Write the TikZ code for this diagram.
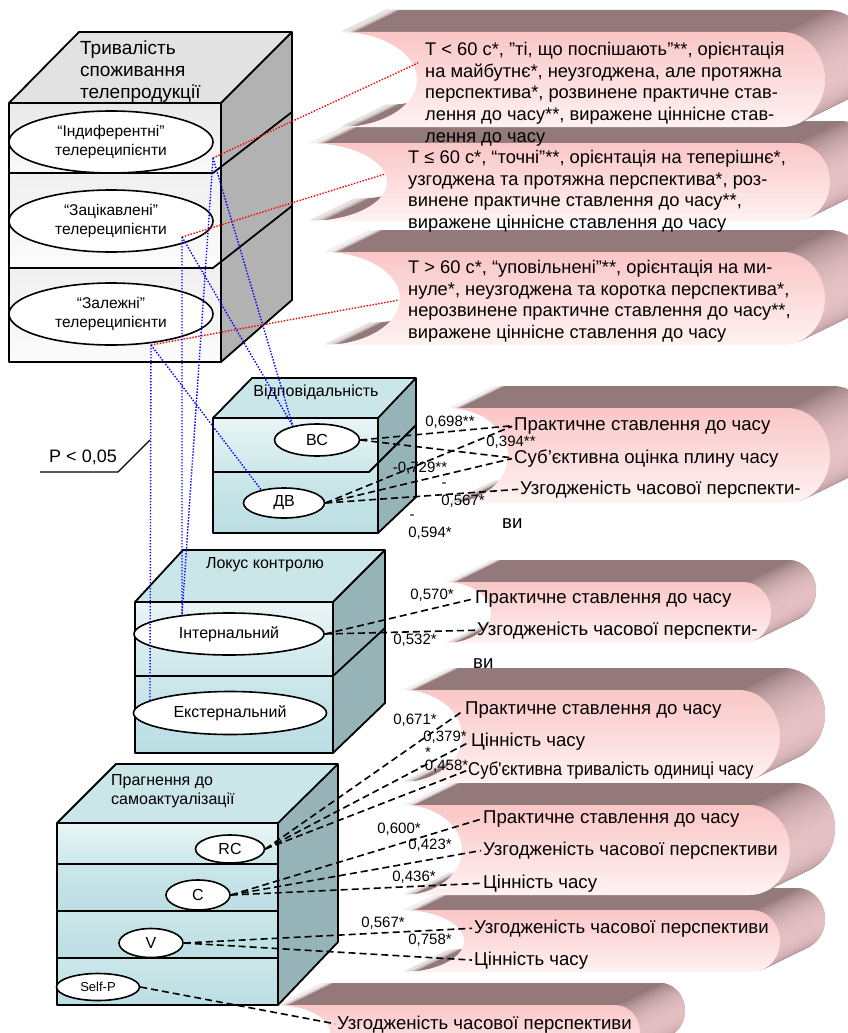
\documentclass[tikz,border=0pt]{standalone}
\usepackage{fontspec}
\setmainfont{Liberation Sans}
\newfontfamily\narrowfont[FakeStretch=0.9]{Liberation Sans}
\usetikzlibrary{shapes.geometric}
\definecolor{rdark}{RGB}{148,121,123}
\definecolor{rlight}{RGB}{232,196,199}
\definecolor{rtop}{RGB}{250,198,198}
\definecolor{rbot}{RGB}{255,242,242}
\definecolor{gtop}{RGB}{226,226,226}
\definecolor{gside}{RGB}{178,178,178}
\definecolor{ttop}{RGB}{202,230,233}
\definecolor{tside}{RGB}{150,180,184}
\definecolor{tfa}{RGB}{234,245,246}
\definecolor{tfb}{RGB}{204,231,234}
\definecolor{tfc}{RGB}{186,222,227}
\newcommand{\ribbonfill}[1]{\path[#1] (\rbL,\rbT) -- (\rbC,\rbT) .. controls (\rbK,\rbT) and (\rbR,\rbU) .. (\rbR,\rbM) .. controls (\rbR,\rbV) and (\rbK,\rbB) .. (\rbC,\rbB) -- (\rbL,\rbB) .. controls (\rbP,\rbB) and (\rbN,\rbV) .. (\rbN,\rbM) .. controls (\rbN,\rbU) and (\rbP,\rbT) .. (\rbL,\rbT) -- cycle;}
\newcommand{\ribbonend}[1]{\shade[#1] (\rbC,\rbT) .. controls (\rbK,\rbT) and (\rbR,\rbU) .. (\rbR,\rbM) .. controls (\rbR,\rbV) and (\rbK,\rbB) .. (\rbC,\rbB) -- cycle;}
\newcommand{\ribbon}[5]{%
  \pgfmathsetmacro{\rbL}{#1}%
  \pgfmathsetmacro{\rbT}{#2}%
  \pgfmathsetmacro{\rbB}{#3}%
  \pgfmathsetmacro{\rbN}{#4}%
  \pgfmathsetmacro{\rbR}{#5}%
  \pgfmathsetmacro{\rbM}{(#2+#3)/2}%
  \pgfmathsetmacro{\rbC}{#5-0.45*(#3-#2)}%
  \pgfmathsetmacro{\rbK}{\rbC+0.552*(\rbR-\rbC)}%
  \pgfmathsetmacro{\rbU}{\rbM-0.552*(\rbM-\rbT)}%
  \pgfmathsetmacro{\rbV}{\rbM+0.552*(\rbB-\rbM)}%
  \pgfmathsetmacro{\rbP}{\rbL+0.552*(\rbN-\rbL)}%
  \foreach \k in {22,21,...,1}{\ribbonfill{fill=rdark,shift={({45*\k/22},{-\k})}}}%
  \foreach \k in {22,21,...,1}{\ribbonend{left color=rdark,right color=rlight,shift={({45*\k/22},{-\k})}}}%
  \ribbonfill{top color=rtop,bottom color=rbot}%
}

\begin{document}
\begin{tikzpicture}[x=1pt,y=-1pt,
  boxline/.style={line width=1.8pt,line join=round},
  enode/.style={draw,ellipse,fill=white,line width=1.6pt,inner sep=0pt,font=\fontsize{16}{18}\selectfont},
  tnode/.style={anchor=base west,inner sep=0pt,font=\fontsize{18.6}{22}\selectfont},
  pnode/.style={anchor=north west,inner sep=0pt,align=left,font=\fontsize{18.3}{21.7}\selectfont},
  lnode/.style={inner sep=0pt,font=\fontsize{15}{17}\selectfont},
  cline/.style={line width=1.6pt,dash pattern=on 7pt off 4pt,shorten >=2pt},
  bline/.style={blue,line width=1.4pt,dash pattern=on 1.4pt off 1.6pt},
  rline/.style={red,line width=1.4pt,dash pattern=on 1.4pt off 1.6pt}]
  \useasboundingbox (0,0) rectangle (848,1033);
  \clip (0,0) rectangle (848,1033);

  \fill[gtop] (9,103) -- (79,32) -- (292,32) -- (221,103) -- cycle;
  \fill[gside] (221,103) -- (292,32) -- (292,300) -- (221,362) -- cycle;
  \shade[top color=gray!18,bottom color=gray!4] (9,103) rectangle (221,173);
  \shade[top color=gray!12,bottom color=gray!3] (9,173) rectangle (221,268);
  \shade[top color=gray!12,bottom color=gray!3] (9,268) rectangle (221,362);
  \draw[boxline] (9,103) -- (79,32) -- (292,32) -- (292,300) -- (221,362) -- (9,362) -- cycle;
  \draw[boxline] (9,103) -- (221,103) -- (292,32);
  \draw[boxline] (221,103) -- (221,362);
  \draw[boxline] (9,173) -- (213,173) -- (292,112);
  \draw[boxline] (9,268) -- (213,268) -- (292,206);

  \fill[ttop] (213,418) -- (252,378) -- (416,378) -- (378,418) -- cycle;
  \fill[tside] (378,418) -- (416,378) -- (416,497) -- (378,533) -- cycle;
  \shade[top color=tfa,bottom color=tfb] (213,418) rectangle (378,472);
  \shade[top color=tfb,bottom color=tfc] (213,472) rectangle (378,533);
  \draw[boxline] (213,418) -- (252,378) -- (416,378) -- (416,497) -- (378,533) -- (213,533) -- cycle;
  \draw[boxline] (213,418) -- (378,418) -- (416,378);
  \draw[boxline] (378,418) -- (378,533);
  \draw[boxline] (213,472) -- (369,472) -- (416,425);

  \fill[ttop] (135,602) -- (183,550) -- (385,550) -- (333,602) -- cycle;
  \fill[tside] (333,602) -- (385,550) -- (385,703) -- (333,753) -- cycle;
  \shade[top color=tfa,bottom color=tfb] (135,602) rectangle (333,676);
  \shade[top color=tfb,bottom color=tfc] (135,676) rectangle (333,753);
  \draw[boxline] (135,602) -- (183,550) -- (385,550) -- (385,703) -- (333,753) -- (135,753) -- cycle;
  \draw[boxline] (135,602) -- (333,602) -- (385,550);
  \draw[boxline] (333,602) -- (333,753);
  \draw[boxline] (135,676) -- (333,676) -- (385,628);

  \fill[ttop] (57,823) -- (116,764) -- (338,764) -- (278,823) -- cycle;
  \fill[tside] (278,823) -- (338,764) -- (338,942) -- (278,1005) -- cycle;
  \shade[top color=tfa,bottom color=tfb] (57,823) rectangle (278,864);
  \shade[top color=tfb,bottom color=tfc] (57,864) rectangle (278,911);
  \shade[top color=tfb,bottom color=tfc] (57,911) rectangle (278,958);
  \shade[top color=tfb,bottom color=tfc] (57,958) rectangle (278,1005);
  \draw[boxline] (57,823) -- (116,764) -- (338,764) -- (338,942) -- (278,1005) -- (57,1005) -- cycle;
  \draw[boxline] (57,823) -- (278,823) -- (338,764);
  \draw[boxline] (278,823) -- (278,1005);
  \draw[boxline] (57,864) -- (278,864);
  \draw[boxline] (57,911) -- (278,911);
  \draw[boxline] (57,958) -- (278,958);

  \ribbon{275}{1005}{1060}{330}{640}
  \ribbon{402}{910}{972}{464}{780}
  \ribbon{403}{805}{895}{462}{790}
  \ribbon{402}{690}{782}{462}{780}
  \ribbon{445}{582}{643}{491}{771}
  \ribbon{448}{408}{503}{508}{830}
  \ribbon{323}{252}{345}{400}{825}
  \ribbon{308}{143}{221}{387}{830}
  \ribbon{340}{32}{127}{417}{825}

  \node[anchor=north west,inner sep=0pt,align=left,font=\fontsize{19}{22}\selectfont] (dur) at (80,41) {Тривалість\\споживання\\телепродукції};
  \node[enode,minimum width=204pt,minimum height=62pt,align=center,font=\fontsize{15.5}{18.5}\selectfont] (indif) at (111,142) {“Індиферентні”\\телереципієнти};
  \node[enode,minimum width=204pt,minimum height=62pt,align=center,font=\fontsize{15.5}{18.5}\selectfont] (zac) at (111,221) {“Зацікавлені”\\телереципієнти};
  \node[enode,minimum width=204pt,minimum height=62pt,align=center,font=\fontsize{15.5}{18.5}\selectfont] (zal) at (111,314) {“Залежні”\\телереципієнти};

  \node[inner sep=0pt,font=\fontsize{16}{18}\selectfont] (resp) at (316,392) {Відповідальність};
  \node[enode,minimum width=85pt,minimum height=32pt] (bc) at (317,440) {ВС};
  \node[enode,minimum width=81pt,minimum height=30pt] (dv) at (284,503) {ДВ};

  \node[inner sep=0pt,font=\fontsize{16}{18}\selectfont] (loc) at (265,565) {Локус контролю};
  \node[enode,minimum width=190pt,minimum height=42pt] (intern) at (229,634) {Інтернальний};
  \node[enode,minimum width=193pt,minimum height=43pt] (extern) at (230,713) {Екстернальний};

  \node[anchor=north west,inner sep=0pt,align=left,font=\fontsize{16}{19}\selectfont] (strive) at (111,774) {Прагнення до\\самоактуалізації};
  \node[enode,minimum width=69pt,minimum height=28pt] (rc) at (230,849) {RC};
  \node[enode,minimum width=64pt,minimum height=30pt] (cc) at (198,895) {C};
  \node[enode,minimum width=64pt,minimum height=29pt] (vv) at (151,943) {V};
  \node[enode,minimum width=83pt,minimum height=27pt,font=\fontsize{13}{15}\selectfont] (selfp) at (98,987) {Self-P};

  \coordinate (ip) at (213,158);
  \coordinate (zp) at (182,237);
  \coordinate (lp) at (151,345);
  \coordinate (n1) at (418,63);
  \coordinate (n2) at (385,174);
  \coordinate (n3) at (399,300);
  \coordinate (pa) at (40,472);
  \coordinate (pb) at (118,472);
  \coordinate (pc) at (150,440);

  \node[pnode] (t1) at (425,42) {Т < 60 с*, "ті, що поспішають”**, орієнтація\\на майбутнє*, неузгоджена, але протяжна\\перспектива*, розвинене практичне став-\\лення до часу**, виражене ціннісне став-\\лення до часу};
  \node[pnode] (t2) at (408,150) {Т ≤ 60 с*, “точні”**, орієнтація на теперішнє*,\\узгоджена та протяжна перспектива*, роз-\\винене практичне ставлення до часу**,\\виражене ціннісне ставлення до часу};
  \node[pnode] (t3) at (408,260) {Т > 60 с*, “уповільнені”**, орієнтація на ми-\\нуле*, неузгоджена та коротка перспектива*,\\нерозвинене практичне ставлення до часу**,\\виражене ціннісне ставлення до часу};

  \node[tnode] (p4a) at (514,430) {Практичне ставлення до часу};
  \node[tnode] (p4b) at (514,463) {Суб’єктивна оцінка плину часу};
  \node[tnode] (p4c) at (520,494) {Узгодженість часової перспекти-};
  \node[tnode] (p4d) at (502,528) {ви};
  \node[tnode] (p5a) at (475,603) {Практичне ставлення до часу};
  \node[tnode] (p5b) at (477,635) {Узгодженість часової перспекти-};
  \node[tnode] (p5c) at (473,668) {ви};
  \node[tnode] (p6a) at (465,714) {Практичне ставлення до часу};
  \node[tnode] (p6b) at (471,746) {Цінність часу};
  \node[tnode,font=\narrowfont\fontsize{18.6}{22}\selectfont] (p6c) at (468,775) {Суб'єктивна тривалість одиниці часу};
  \node[tnode] (p7a) at (483,823) {Практичне ставлення до часу};
  \node[tnode] (p7b) at (483,855) {Узгодженість часової перспективи};
  \node[tnode] (p7c) at (483,888) {Цінність часу};
  \node[tnode] (p8a) at (474,933) {Узгодженість часової перспективи};
  \node[tnode] (p8b) at (474,965) {Цінність часу};
  \node[tnode] (p9a) at (337,1029) {Узгодженість часової перспективи};

  \node[anchor=base east,inner sep=0pt,font=\fontsize{18}{20}\selectfont] (pval) at (117,462) {P < 0,05};
  \draw[line width=1.3pt] (pa) -- (pb) -- (pc);

  \draw[rline] (ip) -- (n1);
  \draw[rline] (zp) -- (n2);
  \draw[rline] (lp) -- (n3);

  \draw[bline] (ip) -- (bc.150);
  \draw[bline] (ip) -- (intern.158);
  \draw[bline] (zp) -- (bc.150);
  \draw[bline] (zp) -- (intern.158);
  \draw[bline] (lp) -- (dv.150);
  \draw[bline] (lp) -- (extern.171);

  \begin{scope}[cline]
    \draw (bc.east) -- (p4a.west);
    \draw (bc.east) -- (p4b.west);
    \draw (dv.east) -- (p4a.west);
    \draw (dv.east) -- (p4b.west);
    \draw (dv.east) -- (p4c.west);
    \draw (intern.east) -- (p5a.west);
    \draw (intern.east) -- (p5b.west);
    \draw (rc.east) -- (p6a.west);
    \draw (rc.east) -- (p6b.west);
    \draw (rc.east) -- (p6c.west);
    \draw (cc.east) -- (p7a.west);
    \draw (cc.east) -- (p7b.west);
    \draw (cc.east) -- (p7c.west);
    \draw (vv.east) -- (p8a.west);
    \draw (vv.east) -- (p8b.west);
    \draw (selfp.east) -- (p9a.west);
  \end{scope}

  \node[lnode] (r1) at (450,422) {0,698**};
  \node[lnode] (r2) at (511,442) {0,394**};
  \node[lnode] (r3) at (420,468) {-0,729**};
  \node[lnode] (r4) at (444,485) {-};
  \node[lnode] (r5) at (463,501) {0,567*};
  \node[lnode] (r6) at (412,517) {-};
  \node[lnode] (r7) at (430,533) {0,594*};
  \node[lnode] (r8) at (432,595) {0,570*};
  \node[lnode] (r9) at (415,640) {0,532*};
  \node[lnode] (r10) at (415,720) {0,671*};
  \node[lnode] (r11) at (445,737) {0,379*};
  \node[lnode] (r12) at (428,752) {*};
  \node[lnode] (r13) at (444,766) {-0,458*};
  \node[lnode] (r14) at (399,829) {0,600*};
  \node[lnode] (r15) at (430,845) {0,423*};
  \node[lnode] (r16) at (414,877) {0,436*};
  \node[lnode] (r17) at (383,923) {0,567*};
  \node[lnode] (r18) at (430,940) {0,758*};
\end{tikzpicture}
\end{document}
